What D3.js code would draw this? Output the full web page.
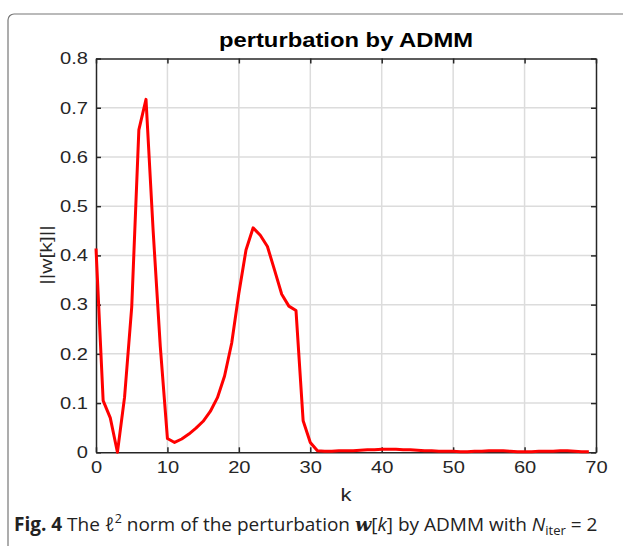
<!DOCTYPE html>
<head>
<meta charset="utf-8">
<style>
body { margin: 0; background: #fff; }
svg { display: block; }
.grid line { stroke: #dcdcdc; stroke-width: 1.5px; }
.axis path, .axis line { stroke: #262626; stroke-width: 1.5px; }
.axis text { font-family: "Liberation Sans", Arial, sans-serif; fill: #262626; }
</style>
</head>
<body>
<svg width="623" height="546"></svg>
<script src="https://cdn.jsdelivr.net/npm/d3@7"></script>
<script>
// data, k = 0..69
var kValues = d3.range(0, 70);
var normValues = [
  0.414, 0.105, 0.070, 0.000, 0.112, 0.295, 0.655, 0.717, 0.450, 0.215,
  0.028, 0.020, 0.027, 0.037, 0.049, 0.063, 0.083, 0.111, 0.155, 0.222,
  0.323, 0.411, 0.456, 0.441, 0.418, 0.370, 0.321, 0.297, 0.288, 0.064,
  0.020, 0.003, 0.002, 0.002, 0.003, 0.003, 0.003, 0.004, 0.005, 0.005,
  0.006, 0.006, 0.006, 0.005, 0.005, 0.004, 0.003, 0.003, 0.002, 0.002,
  0.002, 0.001, 0.001, 0.002, 0.002, 0.003, 0.003, 0.003, 0.002, 0.001,
  0.001, 0.001, 0.002, 0.002, 0.002, 0.003, 0.003, 0.002, 0.001, 0.001
];
var xTicks = [0, 10, 20, 30, 40, 50, 60, 70];
var yTicks = [0, 0.1, 0.2, 0.3, 0.4, 0.5, 0.6, 0.7, 0.8];

var svg = d3.select("svg");
var sx = 1.22; // matlab text renders wider than Liberation Sans

// frame of the figure box
svg.append("rect")
  .attr("x", 8).attr("y", 14)
  .attr("width", 700).attr("height", 700)
  .attr("rx", 6)
  .attr("fill", "none")
  .attr("stroke", "#777")
  .attr("stroke-width", 1.2);

var pLeft = 96, pRight = 596, pTop = 58.5, pBottom = 452.3;
var x = d3.scaleLinear().domain([0, 70]).range([pLeft, pRight]);
var y = d3.scaleLinear().domain([0, 0.8]).range([pBottom, pTop]);

// grid
var grid = svg.append("g").attr("class", "grid");
grid.selectAll(".gx").data(xTicks.slice(1, -1)).enter().append("line")
  .attr("x1", d => x(d)).attr("x2", d => x(d))
  .attr("y1", pTop).attr("y2", pBottom);
grid.selectAll(".gy").data(yTicks.slice(1, -1)).enter().append("line")
  .attr("y1", d => y(d)).attr("y2", d => y(d))
  .attr("x1", pLeft).attr("x2", pRight);

// axes with inward ticks, box style
var xAx = svg.append("g").attr("class", "axis")
  .attr("transform", "translate(0," + pBottom + ")")
  .call(d3.axisBottom(x).tickValues(xTicks).tickSize(-5).tickPadding(9).tickSizeOuter(0).tickFormat(d3.format("d")));
xAx.selectAll("text").style("font-size", "16.5px").attr("transform", "scale(" + sx + ",1)");

svg.append("g").attr("class", "axis")
  .attr("transform", "translate(0," + pTop + ")")
  .call(d3.axisTop(x).tickValues(xTicks).tickSize(-5).tickSizeOuter(0).tickFormat(""));

var yAx = svg.append("g").attr("class", "axis")
  .attr("transform", "translate(" + pLeft + ",0)")
  .call(d3.axisLeft(y).tickValues(yTicks).tickSize(-5).tickPadding(8).tickSizeOuter(0).tickFormat(d => d === 0 ? "0" : d3.format(".1f")(d)));
yAx.selectAll("text").style("font-size", "16.5px")
  .attr("x", -8 / sx).attr("transform", "scale(" + sx + ",1)");

svg.append("g").attr("class", "axis")
  .attr("transform", "translate(" + pRight + ",0)")
  .call(d3.axisRight(y).tickValues(yTicks).tickSize(-5).tickSizeOuter(0).tickFormat(""));

// the curve
var line = d3.line().x((d, i) => x(kValues[i])).y(d => y(d));
svg.append("path")
  .datum(normValues)
  .attr("d", line)
  .attr("fill", "none")
  .attr("stroke", "#ff0000")
  .attr("stroke-width", 3)
  .attr("stroke-linejoin", "round");

// title and axis labels
svg.append("text")
  .attr("transform", "translate(" + (pLeft + pRight) / 2 + ",47) scale(1.22,1)")
  .attr("text-anchor", "middle")
  .style("font-family", "Liberation Sans, Arial, sans-serif")
  .style("font-weight", "bold").style("font-size", "19.5px")
  .text("perturbation by ADMM");

svg.append("text")
  .attr("transform", "translate(" + (pLeft + pRight) / 2 + ",501) scale(" + sx + ",1)")
  .attr("text-anchor", "middle")
  .style("font-family", "Liberation Sans, Arial, sans-serif")
  .style("font-size", "18px").attr("fill", "#262626")
  .text("k");

svg.append("text")
  .attr("transform", "translate(51.5,255) rotate(-90) scale(1.32,1)")
  .attr("text-anchor", "middle")
  .style("font-family", "Liberation Sans, Arial, sans-serif")
  .style("font-size", "16px").attr("fill", "#262626")
  .text("||w[k]||");

// caption
var cap = svg.append("text")
  .attr("x", 14).attr("y", 531)
  .style("font-family", "Open Sans, sans-serif")
  .style("font-size", "19px").attr("fill", "#222");
cap.append("tspan").style("font-weight", "bold").text("Fig. 4");
cap.append("tspan").text(" The \u2113");
cap.append("tspan").attr("dy", -8).style("font-size", "12.5px").text("2");
cap.append("tspan").attr("dy", 8).text(" norm of the perturbation ");
cap.append("tspan").style("font-family", "DejaVu Serif, serif").style("font-weight", "bold").style("font-style", "italic").text("w");
cap.append("tspan").text("[");
cap.append("tspan").style("font-style", "italic").text("k");
cap.append("tspan").text("] by ADMM with ");
cap.append("tspan").style("font-style", "italic").text("N");
cap.append("tspan").attr("dy", 4).style("font-size", "13px").text("iter");
cap.append("tspan").attr("dy", -4).text(" = 2");
</script>
</body>
